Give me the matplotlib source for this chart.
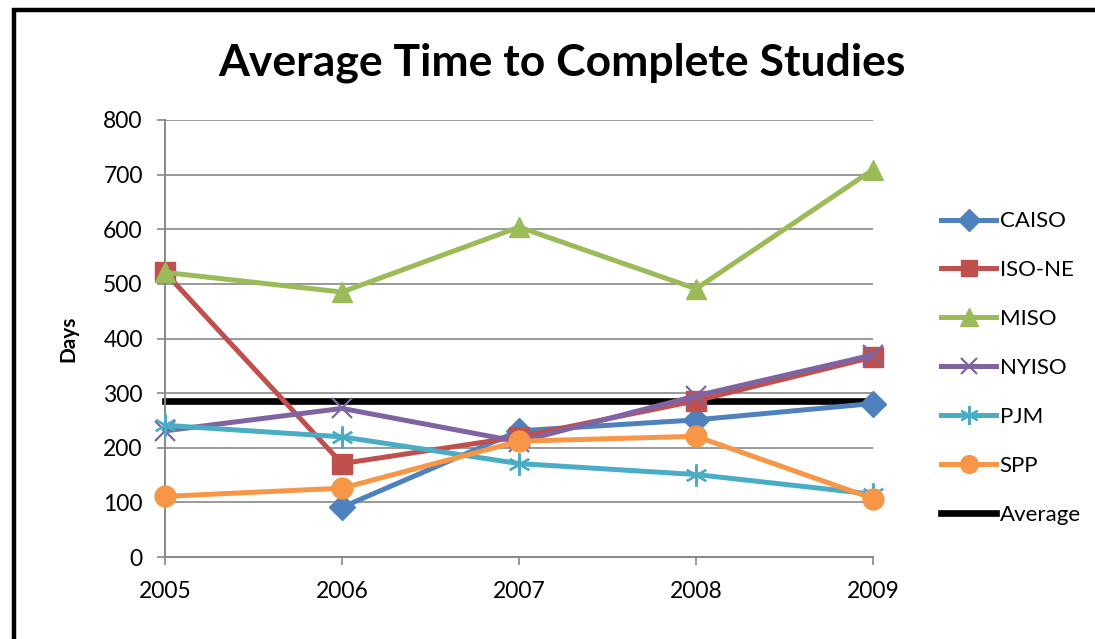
import matplotlib
matplotlib.use('Agg')
import matplotlib.pyplot as plt
from matplotlib.patches import Rectangle

years = [2005, 2006, 2007, 2008, 2009]

caiso = [None, 91, 231, 251, 281]
iso_ne = [521, 171, 220, 286, 366]
miso = [521, 485, 604, 491, 709]
nyiso = [231, 272, 211, 295, 370]
pjm = [241, 220, 171, 151, 115]
spp = [111, 126, 212, 221, 107]
average = [285, 285, 285, 285, 285]

series = [
    ('CAISO', caiso, '#4F81BD', 'D', 13),
    ('ISO-NE', iso_ne, '#C0504D', 's', 14),
    ('MISO', miso, '#9BBB59', '^', 15),
    ('NYISO', nyiso, '#8064A2', 'x', 14),
    ('PJM', pjm, '#4BACC6', (6, 2, 0), 16),
    ('SPP', spp, '#F79646', 'o', 15),
]

plt.rcParams['font.family'] = ['Lato', 'DejaVu Sans']

fig = plt.figure(figsize=(10.95, 6.39), dpi=100)
ax = fig.add_axes([165 / 1095, 1 - 557 / 639, (873 - 165) / 1095, (557 - 120) / 639])

# outer chart border (cut by the image edge on the right and bottom)
fig.patches.append(Rectangle((14 / 1095, -0.05), 1.1, 1 - 10 / 639 + 0.05,
                             transform=fig.transFigure, fill=False,
                             edgecolor='black', linewidth=3.2, zorder=10))

# average line under the others
xs = list(range(len(years)))
ax.plot(xs, average, color='black', linewidth=4.8, label='Average', zorder=2)

for name, vals, color, marker, ms in series:
    px = [x for x, v in zip(xs, vals) if v is not None]
    pv = [v for v in vals if v is not None]
    mew = 1.6 if marker in ('x', (6, 2, 0)) else 1
    ax.plot(px, pv, color=color, linewidth=3.6, marker=marker, markersize=ms,
            markeredgewidth=mew, markeredgecolor=color, label=name, zorder=3)

ax.set_xlim(0, len(years) - 1)
ax.set_ylim(0, 800)
ax.set_yticks(range(0, 801, 100))
ax.set_xticks(xs)
ax.set_xticklabels([str(y) for y in years])
ax.tick_params(axis='both', labelsize=16.5, color='#888888', length=6, width=1.2)
ax.tick_params(axis='y', pad=10)
ax.tick_params(axis='x', pad=11)
ax.grid(axis='y', color='#999999', linewidth=1.4)
ax.set_axisbelow(True)
for side in ('top', 'right'):
    ax.spines[side].set_visible(False)
for side in ('left', 'bottom'):
    ax.spines[side].set_color('#888888')
    ax.spines[side].set_linewidth(1.4)
for ln in ax.lines:
    ln.set_clip_on(False)

ax.set_ylabel('Days', fontsize=15, fontweight='bold', labelpad=18)

fig.text(562 / 1095, 1 - 63 / 639, 'Average Time to Complete Studies',
         ha='center', va='center', fontsize=32, fontweight='bold')

handles, labels = ax.get_legend_handles_labels()
order = list(range(1, len(handles))) + [0]
ax.legend([handles[i] for i in order], [labels[i] for i in order],
          loc='center left', bbox_to_anchor=(0.841, 1 - 368 / 639),
          bbox_transform=fig.transFigure, frameon=False, fontsize=16,
          labelspacing=1.3, handlelength=2.5, handletextpad=0.15,
          markerscale=0.85)

plt.savefig('out.png', dpi=100)
plt.close()
